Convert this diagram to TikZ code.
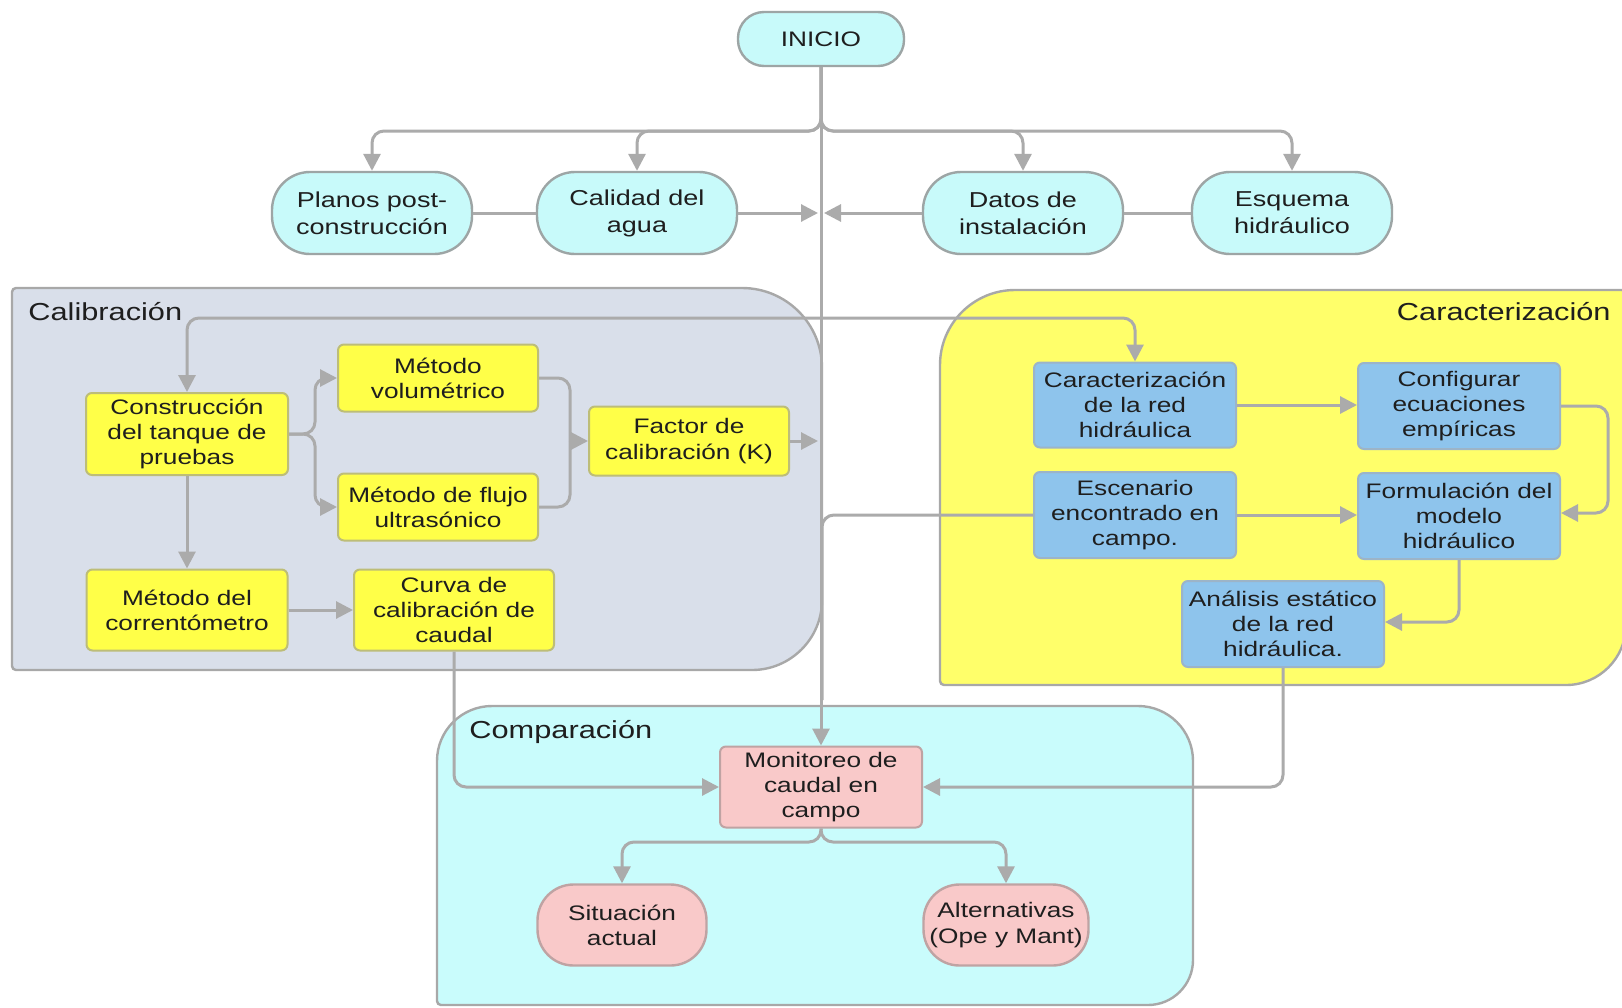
\documentclass[tikz,border=0pt]{standalone}
\usepackage{fontspec}
\setmainfont{Liberation Sans}[FakeStretch=1.25]
\usetikzlibrary{arrows.meta,calc}
\definecolor{txt}{HTML}{1E1E1E}
\definecolor{cgray}{HTML}{ABABAB}
\definecolor{gborder}{HTML}{A8A8A8}
\definecolor{ovalfill}{HTML}{C8FAFA}
\definecolor{ovalborder}{HTML}{9DA5A5}
\definecolor{calfill}{HTML}{D9DFEA}
\definecolor{carfill}{HTML}{FFFF6A}
\definecolor{comfill}{HTML}{C9FCFC}
\definecolor{yfill}{HTML}{FFFF48}
\definecolor{yborder}{HTML}{BDBD78}
\definecolor{bfill}{HTML}{8EC4EC}
\definecolor{bborder}{HTML}{9CB4C8}
\definecolor{pfill}{HTML}{F9C9C9}
\definecolor{pborder}{HTML}{BFA3A3}
\begin{document}
\begin{tikzpicture}[x=0.5pt,y=-0.5pt,
  nodetext/.style={align=center, inner sep=0pt, text=txt, font=\fontsize{10.5}{12.6}\selectfont},
  topoval/.style={nodetext, draw=ovalborder, line width=1.2pt, fill=ovalfill, rounded corners=19pt, minimum width=100pt, minimum height=41pt, font=\fontsize{10.8}{13.5}\selectfont},
  yellowbox/.style={nodetext, draw=yborder, line width=1pt, fill=yfill, rounded corners=3pt, minimum width=101pt, minimum height=41pt},
  bluebox/.style={nodetext, draw=bborder, line width=1pt, fill=bfill, rounded corners=3pt, minimum width=101pt, minimum height=43pt},
  pinkbox/.style={nodetext, draw=pborder, line width=1pt, fill=pfill, rounded corners=3pt, minimum width=101pt, minimum height=40.5pt},
  pinkoval/.style={nodetext, draw=pborder, line width=1.2pt, fill=pfill, rounded corners=18pt, minimum width=83pt, minimum height=40.5pt},
  grp/.style={draw=gborder, line width=1.2pt},
  grplabel/.style={text=txt, inner sep=0pt, font=\fontsize{12.3}{14}\selectfont},
  conn/.style={draw=cgray, line width=1.5pt, rounded corners=6pt},
  arr/.style={conn, -{Triangle[length=8.5pt,width=8.5pt]}}
]
\useasboundingbox[fill=white] (0,0) rectangle (1622,1007);

% groups
\path[grp, fill=calfill] (12,292) -- (12,666) .. controls (12,668.2) and (13.8,670) .. (16,670) -- (752,670) .. controls (790.6,670) and (822,638.6) .. (822,600) -- (822,368) .. controls (822,323.8) and (786.2,288) .. (742,288) -- (16,288) .. controls (13.8,288) and (12,289.8) .. (12,292) -- cycle;
\path[grp, fill=carfill] (940,365) -- (940,681) .. controls (940,683.2) and (941.8,685) .. (944,685) -- (1566,685) .. controls (1599.1,685) and (1626,658.1) .. (1626,625) -- (1626,294) .. controls (1626,291.8) and (1624.2,290) .. (1622,290) -- (1015,290) .. controls (973.6,290) and (940,323.6) .. (940,365) -- cycle;
\path[grp, fill=comfill] (437,761) -- (437,1001) .. controls (437,1003.2) and (438.8,1005) .. (441,1005) -- (1148,1005) .. controls (1172.8,1005) and (1193,984.8) .. (1193,960) -- (1193,761) .. controls (1193,730.6) and (1168.4,706) .. (1138,706) -- (492,706) .. controls (461.6,706) and (437,730.6) .. (437,761) -- cycle;

\node[grplabel, anchor=base west] (lcal) at (28,320) {Calibración};
\node[grplabel, anchor=base east] (lcar) at (1611,320) {Caracterización};
\node[grplabel, anchor=base west] (lcom) at (469,738) {Comparación};

% top nodes
\node[topoval, minimum width=83pt, minimum height=27pt, rounded corners=13pt, font=\fontsize{10.5}{13.5}\selectfont] (inicio) at (821,39) {INICIO};
\node[topoval] (planos) at (372,213) {Planos post-\\construcción};
\node[topoval] (calidad) at (637,213) {Calidad del\\agua};
\node[topoval] (datos) at (1023,213) {Datos de\\instalación};
\node[topoval] (esquema) at (1292,213) {Esquema\\hidráulico};

% calibration
\node[yellowbox] (cons) at (187,434) {Construcción\\del tanque de\\pruebas};
\node[yellowbox, minimum width=100pt, minimum height=33.5pt] (vol) at (438,378) {Método\\volumétrico};
\node[yellowbox, minimum width=100pt, minimum height=33.5pt] (ult) at (438,507) {Método de flujo\\ultrasónico};
\node[yellowbox, minimum width=100pt, minimum height=34.5pt] (fac) at (689,441) {Factor de\\calibración (K)};
\node[yellowbox, minimum width=100.5pt, minimum height=40.5pt] (corr) at (187,610) {Método del\\correntómetro};
\node[yellowbox, minimum width=100pt, minimum height=40.5pt] (curva) at (454,610) {Curva de\\calibración de\\caudal};

% caracterizacion
\node[bluebox, minimum height=42.5pt] (cara) at (1135,405) {Caracterización\\de la red\\hidráulica};
\node[bluebox] (conf) at (1459,406) {Configurar\\ecuaciones\\empíricas};
\node[bluebox] (esc) at (1135,515) {Escenario\\encontrado en\\campo.};
\node[bluebox] (form) at (1459,516) {Formulación del\\modelo\\hidráulico};
\node[bluebox] (anal) at (1283,624) {Análisis estático\\de la red\\hidráulica.};

% comparacion
\node[pinkbox] (mon) at (821,787) {Monitoreo de\\caudal en\\campo};
\node[pinkoval, minimum width=84.5pt] (sit) at (622,925) {Situación\\actual};
\node[pinkoval, minimum width=82.5pt] (alt) at (1006,925) {Alternativas\\(Ope y Mant)};

% helper coordinates
\coordinate (j1) at (821,131);
\coordinate (j2) at (821,318);
\coordinate (ca) at (818,213);
\coordinate (da) at (824,213);
\coordinate (fa) at (818,441);
\coordinate (sp) at (315,434);
\coordinate (mg) at (570,441);
\coordinate (ce) at (1608,406);
\coordinate (mj) at (821,842);
\coordinate (em) at (822,700);

% connectors
\draw[arr] (inicio.south) -- (mon.north);
\draw[arr] (inicio.south) -- (j1) -| (planos.north);
\draw[arr] (inicio.south) -- (j1) -| (calidad.north);
\draw[arr] (inicio.south) -- (j1) -| (datos.north);
\draw[arr] (inicio.south) -- (j1) -| (esquema.north);
\draw[conn] (planos.east) -- (calidad.west);
\draw[arr] (calidad.east) -- (ca);
\draw[conn] (esquema.west) -- (datos.east);
\draw[arr] (datos.west) -- (da);

\draw[arr] (j2) -| (cons.north);
\draw[arr] (j2) -| (cara.north);

\draw[arr] (cons.east) -- (sp) |- (vol.west);
\draw[arr] (cons.east) -- (sp) |- (ult.west);
\draw[conn] (vol.east) -| (mg);
\draw[conn] (ult.east) -| (mg);
\draw[arr] (mg) -- (fac.west);
\draw[arr] (fac.east) -- (fa);
\draw[arr] (cons.south) -- (corr.north);
\draw[arr] (corr.east) -- (curva.west);
\draw[arr] (curva.south) |- (mon.west);

\draw[arr] (cara.east) -- (cara.east -| conf.west);
\draw[arr] (esc.east) -- (esc.east -| form.west);
\draw[arr] (conf.east) -- (ce) |- ($(form.east)+(0,-3)$);
\draw[arr] (form.south) |- ($(anal.east)+(0,-2)$);
\draw[arr] (anal.south) |- (mon.east);
\draw[conn] (esc.west) -| (em);

\draw[arr] (mon.south) -- (mj) -| (sit.north);
\draw[arr] (mon.south) -- (mj) -| (alt.north);
\end{tikzpicture}
\end{document}
